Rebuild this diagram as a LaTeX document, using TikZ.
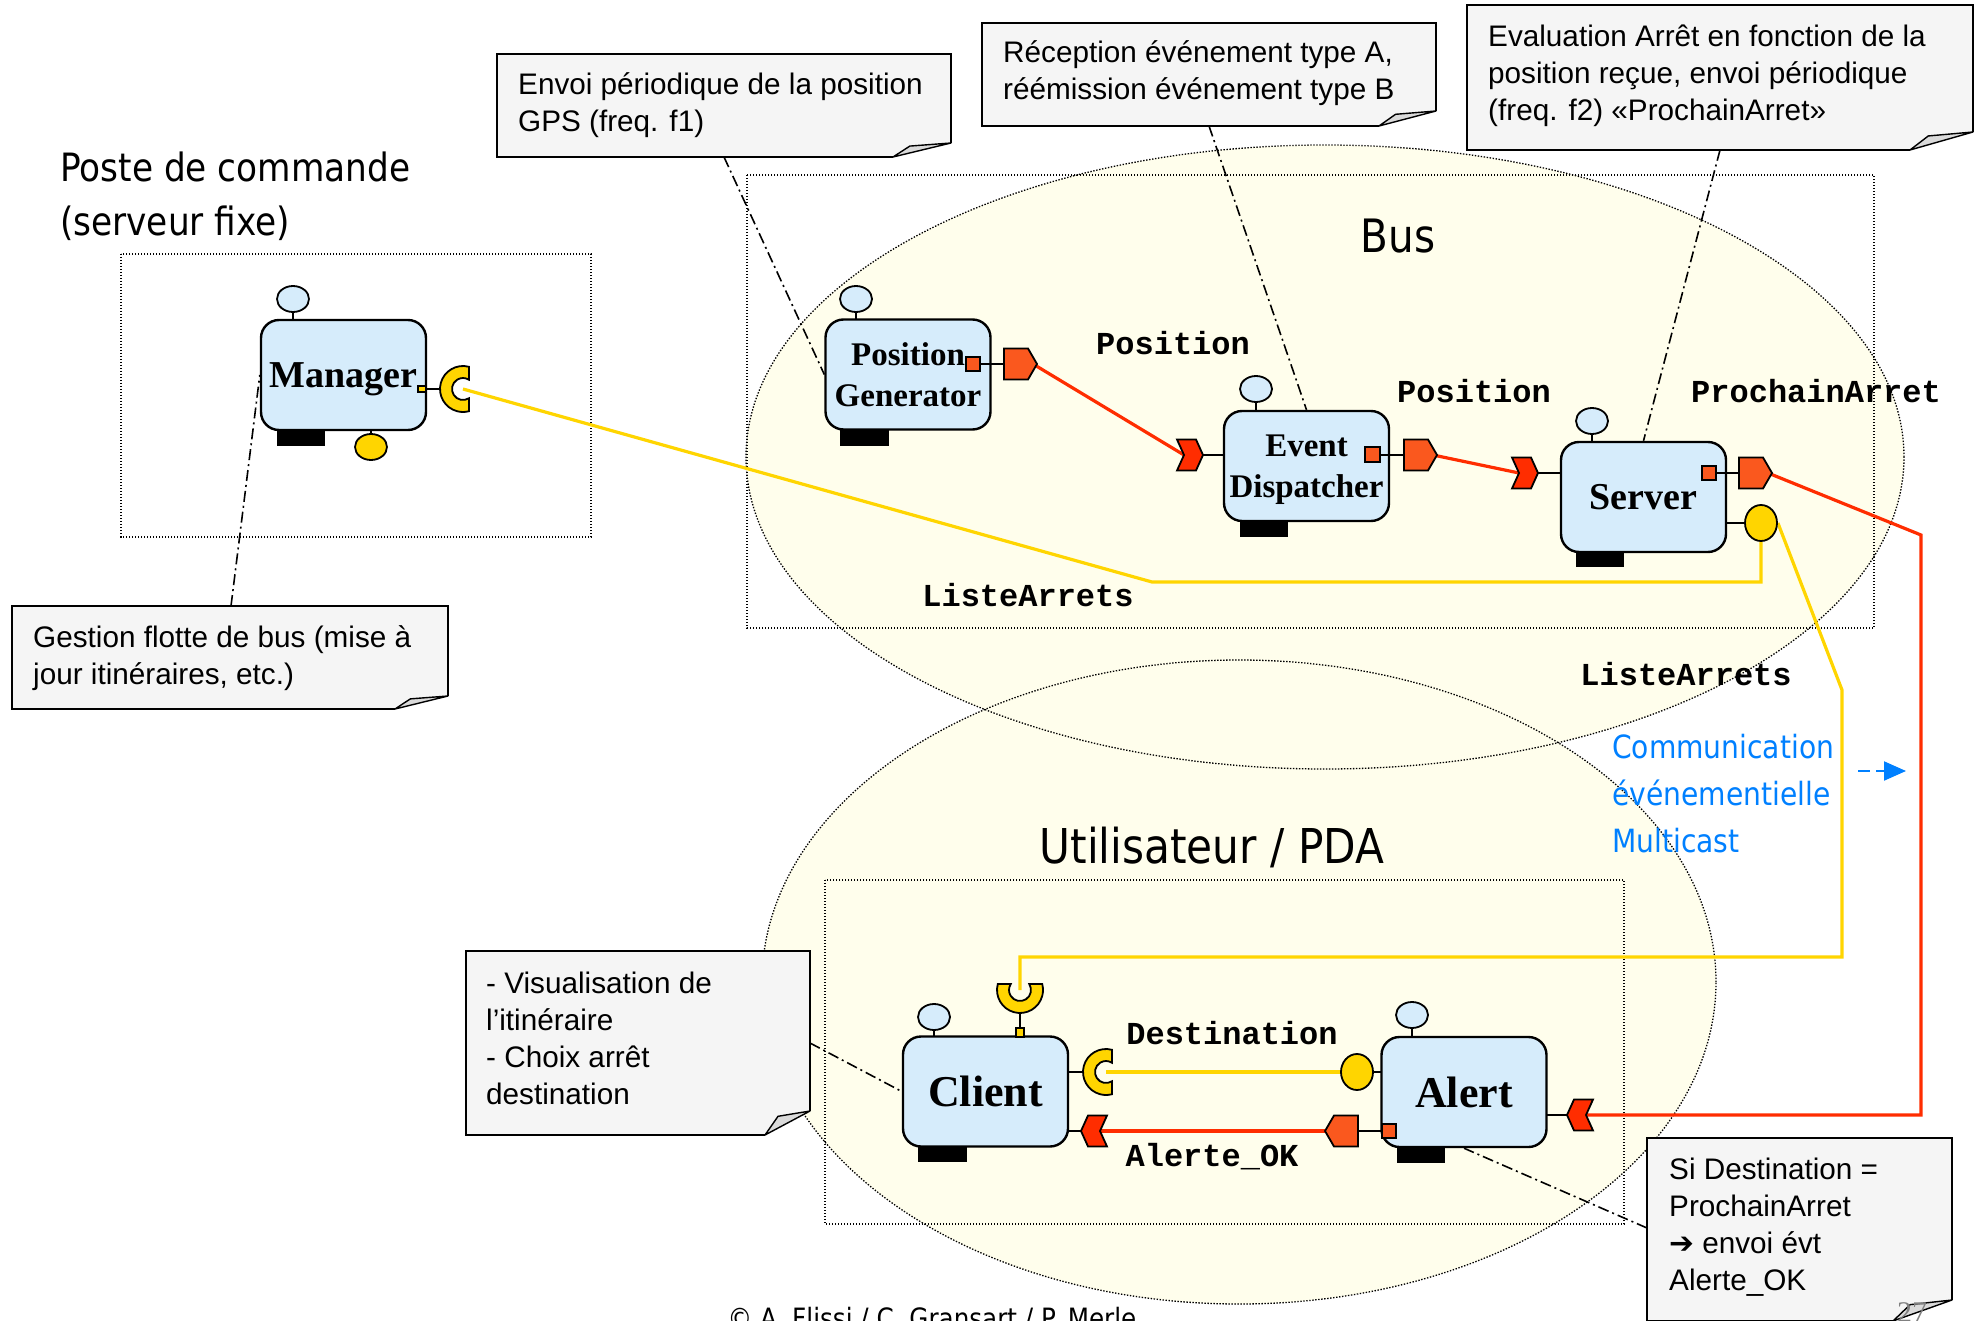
\documentclass[tikz,border=0pt]{standalone}
\usepackage{fontspec}
\usetikzlibrary{shapes.geometric,arrows.meta}
\newfontfamily\notefont{Liberation Sans}
\newfontfamily\compfont{Liberation Serif}
\newfontfamily\portfont{Liberation Mono}
\newfontfamily\handfont[FakeStretch=0.88]{DejaVu Sans}
\newfontfamily\symfont{DejaVu Sans}

\definecolor{compblue}{RGB}{214,236,251}
\definecolor{zonefill}{RGB}{255,254,236}
\definecolor{evorange}{RGB}{250,88,30}
\definecolor{evred}{RGB}{255,45,0}
\definecolor{ifyellow}{RGB}{255,213,0}
\definecolor{notegrey}{RGB}{245,245,245}
\definecolor{flapgrey}{RGB}{218,218,218}
\definecolor{legendblue}{RGB}{0,128,255}

\pgfdeclarelayer{bg}
\pgfdeclarelayer{wires}
\pgfsetlayers{bg,wires,main}

% event ports, receptacles
\tikzset{
  pics/srcR/.style={code={
    \draw[port, fill=evorange] (0pt,15.5pt) -- (24pt,15.5pt) -- (33pt,0pt) -- (24pt,-15.5pt) -- (0pt,-15.5pt) -- cycle;
    \coordinate (-tip) at (29pt,0pt);}},
  pics/srcL/.style={code={
    \draw[port, fill=evorange] (0pt,15.5pt) -- (-24pt,15.5pt) -- (-33pt,0pt) -- (-24pt,-15.5pt) -- (0pt,-15.5pt) -- cycle;
    \coordinate (-tip) at (-29pt,0pt);}},
  pics/sinkR/.style={code={
    \draw[port, fill=evred] (0pt,15.5pt) -- (19pt,15.5pt) -- (26pt,0pt) -- (19pt,-15.5pt) -- (0pt,-15.5pt) -- (7pt,0pt) -- cycle;
    \coordinate (-in) at (7pt,0pt);}},
  pics/sinkL/.style={code={
    \draw[port, fill=evred] (0pt,15.5pt) -- (-19pt,15.5pt) -- (-26pt,0pt) -- (-19pt,-15.5pt) -- (0pt,-15.5pt) -- (-7pt,0pt) -- cycle;
    \coordinate (-in) at (-7pt,0pt);}},
  pics/recep/.style={code={
    \draw[port, fill=ifyellow] (75:23pt) arc[start angle=75, end angle=285, radius=23pt]
      -- (-57:11pt) arc[start angle=-57, end angle=-303, radius=11pt] -- cycle;
    \coordinate (-c) at (0pt,0pt);}},
}

% note with folded corner: x1,y1,x2,y2,fold width,fold height
\newcommand\notebox[6]{%
  \fill[notegrey] (#1,#2) -- (#3,#2) -- (#3,{#4-#6}) -- ({#3-#5},#4) -- (#1,#4) -- cycle;
  \draw[line width=1.8pt, line join=miter] ({#3-#5},#4) -- (#1,#4) -- (#1,#2) -- (#3,#2) -- (#3,{#4-#6});
  \draw[line width=1.4pt, fill=flapgrey, line join=round] ({#3-#5},#4) -- ({#3-0.71*#5},{#4-0.78*#6}) -- (#3,{#4-#6}) -- cycle;
}

\begin{document}
\begin{tikzpicture}[x=1pt,y=-1pt,
  comp/.style={draw, line width=2.4pt, fill=compblue, rounded corners=18pt,
    minimum width=165pt, minimum height=110pt, inner sep=0pt, align=center, text depth=0pt},
  port/.style={draw, line width=1.8pt, line join=miter},
  stem/.style={line width=2pt},
  facet/.style={draw, line width=1.8pt, fill=compblue},
  bar/.style={fill=black},
  evline/.style={draw=evred, line width=3.2pt},
  ifline/.style={draw=ifyellow, line width=3.2pt},
  notelink/.style={line width=1.6pt, dash pattern=on 11pt off 4pt on 2pt off 4pt},
  zone/.style={line width=1.3pt, dash pattern=on 1.4pt off 1.6pt},
  portlabel/.style={font=\portfont\bfseries\fontsize{32}{32}\selectfont, inner sep=0pt, text height=18pt, text depth=0pt},
  notetext/.style={font=\notefont\fontsize{29.7}{37}\selectfont, align=left, inner sep=0pt, anchor=west},
  ifball/.style={draw, ellipse, line width=1.8pt, fill=ifyellow, minimum width=32pt, minimum height=36pt, inner sep=0pt},
]
\useasboundingbox (0,0) rectangle (1975,1321);

% ---- zones ----
\begin{pgfonlayer}{bg}
  \fill[white] (0,0) rectangle (1975,1321);
  \fill[zonefill] (1325,457) ellipse [x radius=579pt, y radius=312pt];
  \fill[zonefill] (1239,982) ellipse [x radius=477pt, y radius=322pt];
  \draw[zone] (1325,457) ellipse [x radius=579pt, y radius=312pt];
  \draw[zone] (1239,982) ellipse [x radius=477pt, y radius=322pt];
  \draw[zone] (121,254) rectangle (591,537);
  \draw[zone] (747,175) rectangle (1874,628);
  \draw[zone] (825,880) rectangle (1624,1224);
\end{pgfonlayer}

% ---- titles ----
\node[anchor=west, align=left, inner sep=0pt, font=\handfont\fontsize{39}{54}\selectfont] (ttl-poste) at (60,196) {Poste de commande\\(serveur fixe)};
\node[inner sep=0pt, font=\handfont\fontsize{46}{46}\selectfont] (ttl-bus) at (1398,236) {Bus};
\node[inner sep=0pt, font=\handfont\fontsize{48}{48}\selectfont] (ttl-user) at (1212,847) {Utilisateur / PDA};
\node[anchor=west, align=left, inner sep=0pt, text=legendblue, font=\handfont\fontsize{32}{47}\selectfont] (legend) at (1612,794) {Communication\\événementielle\\Multicast};
\coordinate (lg-a) at (1858,771);
\coordinate (lg-b) at (1906,771);
\draw[legendblue, line width=2pt, dash pattern=on 12pt off 6pt, -{Triangle[length=22pt,width=19pt]}] (lg-a) -- (lg-b);
\node[anchor=north, inner sep=0pt, font=\handfont\fontsize{28}{28}\selectfont] (copyright) at (932,1307) {© A. Flissi / C. Gransart / P. Merle};

% ---- notes ----
\notebox{497}{54}{951}{157}{58}{14}
\node[notetext] (n1) at (518,105) {Envoi périodique de la position\\GPS (freq. f1)};
\notebox{982}{23}{1436}{126}{57}{15}
\node[notetext] (n2) at (1003,73.5) {Réception événement type A,\\réémission événement type B};
\notebox{1467}{5}{1973}{150}{63}{18}
\node[notetext] (n3) at (1488,75.5) {Evaluation Arrêt en fonction de la\\position reçue, envoi périodique\\(freq. f2) «ProchainArret»};
\notebox{12}{606}{448}{709}{53}{13}
\node[notetext] (n4) at (33,658) {Gestion flotte de bus (mise à\\jour itinéraires, etc.)};
\notebox{466}{951}{810}{1135}{45}{24}
\node[notetext] (n5) at (486,1038) {- Visualisation de\\l’itinéraire\\- Choix arrêt\\destination};
\notebox{1647}{1138}{1952}{1321}{59}{21}
\node[notetext] (n6) at (1669,1227) {Si Destination =\\ProchainArret\\{\symfont\bfseries ➔} envoi évt\\Alerte\_OK};
\node[anchor=north, inner sep=0pt, text=gray, font=\compfont\fontsize{30}{30}\selectfont] (pageno) at (1912,1302) {27};

\coordinate (n1-foot) at (724,157);
\coordinate (n2-foot) at (1209,126);
\coordinate (n3-foot) at (1720,150);
\coordinate (n4-head) at (231,606);
\coordinate (n5-side) at (810,1043);
\coordinate (n6-side) at (1647,1228);

% ---- components: bottom bars ----
\fill[bar] (277,430) rectangle (325,446);
\fill[bar] (840,430) rectangle (889,446);
\fill[bar] (1240,521) rectangle (1288,537);
\fill[bar] (1576,552) rectangle (1624,567);
\fill[bar] (918,1146) rectangle (967,1162);
\fill[bar] (1397,1147) rectangle (1445,1163);

% ---- components ----
\node[comp, font=\compfont\bfseries\fontsize{38}{44}\selectfont] (mgr) at (343.5,375) {Manager};
\node[comp, font=\compfont\bfseries\fontsize{33}{41}\selectfont] (pg) at (908,374.5) {Position\\Generator};
\node[comp, font=\compfont\bfseries\fontsize{33}{41}\selectfont] (ed) at (1306.5,466) {Event\\Dispatcher};
\node[comp, font=\compfont\bfseries\fontsize{38}{44}\selectfont] (sv) at (1643.5,497) {Server};
\node[comp, font=\compfont\bfseries\fontsize{44}{50}\selectfont] (cl) at (985.5,1091.5) {Client};
\node[comp, font=\compfont\bfseries\fontsize{44}{50}\selectfont] (al) at (1464,1092) {Alert};

% ---- facets and stems ----
\foreach \fx/\fy/\fb in {293/299/320, 856/299/319, 1256/389/411, 1592/421/442, 934/1017/1037, 1412/1015/1037}{
  \draw[stem] (\fx,\fy) -- (\fx,\fb);
  \draw[facet] (\fx,\fy) ellipse [x radius=16pt, y radius=13pt];
}

% Manager ports
\draw[stem] (371,430) -- (371,440);
\draw[port, fill=ifyellow] (371,447) ellipse [x radius=16pt, y radius=13pt];
\draw[stem] (426,389) -- (441,389);
\draw[port, line width=1.4pt, fill=ifyellow] (418,386) rectangle (426,392);
\pic (mgrrec) at (463,389) {recep};

% Position Generator ports
\draw[stem] (980,364) -- (1004,364);
\draw[port, line width=1.4pt, fill=evorange] (966,357) rectangle (980,371);
\pic (pgsrc) at (1004,364) {srcR};

% Event Dispatcher ports
\draw[stem] (1203,455) -- (1224,455);
\pic (edsink) at (1177,455) {sinkR};
\draw[stem] (1380,455) -- (1404,455);
\draw[port, line width=1.4pt, fill=evorange] (1365,447) rectangle (1380,462);
\pic (edsrc) at (1404,455) {srcR};

% Server ports
\draw[stem] (1538,473) -- (1561,473);
\pic (svsink) at (1512,473) {sinkR};
\draw[stem] (1716,473) -- (1739,473);
\draw[port, line width=1.4pt, fill=evorange] (1702,466) rectangle (1716,480);
\pic (svsrc) at (1739,473) {srcR};
\draw[stem] (1726,523) -- (1746,523);
\node[ifball] (svlst) at (1761,523) {};

% Client ports
\draw[stem] (1020,1013) -- (1020,1028);
\draw[port, line width=1.4pt, fill=ifyellow] (1016,1028) rectangle (1024,1037);
\pic[rotate=90] (clrec) at (1020,990) {recep};
\draw[stem] (1068,1072) -- (1084,1072);
\pic (cldst) at (1106,1072) {recep};
\draw[stem] (1068,1131) -- (1082,1131);
\pic (clsink) at (1107,1131) {sinkL};

% Alert ports
\draw[stem] (1373,1072) -- (1381,1072);
\node[ifball] (aldst) at (1357,1072) {};
\draw[stem] (1358,1131) -- (1382,1131);
\draw[port, line width=1.4pt, fill=evorange] (1382,1124) rectangle (1396,1138);
\pic (alsrc) at (1358,1131) {srcL};
\draw[stem] (1547,1115) -- (1567,1115);
\pic (alsink) at (1593,1115) {sinkL};

% ---- port labels ----
\node[portlabel] (lb-pos1) at (1173,346) {Position};
\node[portlabel] (lb-pos2) at (1474,393) {Position};
\node[portlabel] (lb-next) at (1816,393) {ProchainArret};
\node[portlabel] (lb-list1) at (1028,597) {ListeArrets};
\node[portlabel] (lb-list2) at (1686,676) {ListeArrets};
\node[portlabel] (lb-dest) at (1232,1035) {Destination};
\node[portlabel] (lb-ok) at (1212,1157) {Alerte\_OK};

% ---- connectors ----
\begin{pgfonlayer}{wires}
  \coordinate (yb1) at (1152,582);
  \coordinate (yb2) at (1842,690);
  \coordinate (yb3) at (1842,957);
  \coordinate (rb1) at (1921,535);
  \coordinate (rb2) at (1921,1115);
  \draw[ifline, line join=miter] (mgrrec-c) -- (yb1) -- (yb1 -| svlst.south) -- (svlst.south);
  \draw[ifline, line join=miter] (svlst.east) -- (yb2) -- (yb3) -- (yb3 -| clrec-c) -- (clrec-c);
  \draw[ifline] (cldst-c) -- (aldst.center);
  \draw[evline] (pgsrc-tip) -- (edsink-in);
  \draw[evline] (edsrc-tip) -- (svsink-in);
  \draw[evline, line join=miter] (svsrc-tip) -- (rb1) -- (rb2) -- (alsink-in);
  \draw[evline] (alsrc-tip) -- (clsink-in);
  \draw[notelink] (n1-foot) -- (pg.west);
  \draw[notelink] (n2-foot) -- (ed.north);
  \draw[notelink] (n3-foot) -- (sv.north);
  \draw[notelink] (n4-head) -- (mgr.west);
  \draw[notelink] (n5-side) -- (cl.west);
  \draw[notelink] (n6-side) -- (al.south);
\end{pgfonlayer}
\end{tikzpicture}
\end{document}
